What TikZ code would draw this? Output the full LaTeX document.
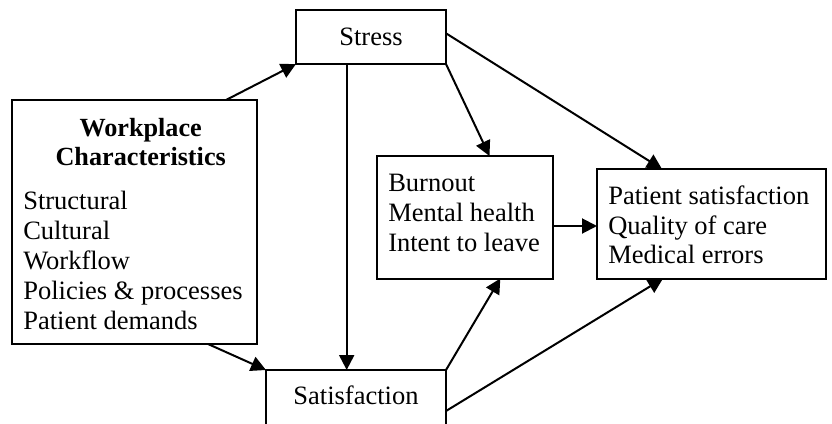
\documentclass[tikz,border=0pt]{standalone}
\usepackage{fontspec}
\setmainfont{Liberation Serif}
\usetikzlibrary{arrows.meta,calc}
\begin{document}
\begin{tikzpicture}[x=0.5pt,y=-0.5pt,
  box/.style={draw,line width=1pt,rectangle,inner sep=0pt,outer sep=0pt,anchor=north west},
  txt/.style={inner sep=0pt,outer sep=0pt,font=\fontsize{13.25}{15}\selectfont},
  bold/.style={txt,font=\fontsize{13.1}{15}\selectfont\bfseries},
  arr/.style={line width=1pt,-{Triangle[length=7.5pt,width=7.5pt]}}]
\useasboundingbox (0,0) rectangle (832,424);
% boxes
\node[box,minimum width=75pt,minimum height=27pt] (stress) at (296,10) {};
\node[box,minimum width=122.5pt,minimum height=122pt] (wp) at (12,100) {};
\node[box,minimum width=87.75pt,minimum height=61.25pt] (burn) at (377,156) {};
\node[box,minimum width=114.5pt,minimum height=54.75pt] (out) at (597,169) {};
\node[box,minimum width=90pt,minimum height=30pt] (sat) at (266,370) {};
% texts
\node[txt,anchor=base] (tstress) at (371,45.7) {Stress};
\node[txt,anchor=base] (tsat) at (356,404.3) {Satisfaction};
\node[bold,anchor=base] (wh1) at (140.7,136.7) {Workplace};
\node[bold,anchor=base] (wh2) at (140.7,165) {Characteristics};
\foreach \t [count=\i] in {Structural,Cultural,Workflow,Policies \& processes,Patient demands}
  \node[txt,anchor=base west] (w\i) at (23.3,{179.3+30*\i}) {\t};
\foreach \t [count=\i] in {Burnout,Mental health,Intent to leave}
  \node[txt,anchor=base west] (b\i) at (388.3,{161.7+30*\i}) {\t};
\node[txt,anchor=base west] (o1) at (608.3,204.3) {Patient satisfaction};
\node[txt,anchor=base west] (o2) at (608.3,234) {Quality of care};
\node[txt,anchor=base west] (o3) at (608.3,263.3) {Medical errors};
% connector end points
\coordinate (wpt) at ($(wp.north west)+(214,0)$);
\coordinate (wpb) at ($(wp.south west)+(196,0)$);
\coordinate (burnt) at ($(burn.north west)+(112.5,0)$);
\coordinate (burnb) at ($(burn.south west)+(123.3,0)$);
\coordinate (burne) at ($(burn.north east)+(0,70)$);
\coordinate (stre) at ($(stress.north east)+(0,23.3)$);
\coordinate (strb) at ($(stress.south west)+(50.7,0)$);
\coordinate (outt) at ($(out.north west)+(65,0)$);
\coordinate (outb) at ($(out.south west)+(66,0)$);
\coordinate (sate) at ($(sat.north east)+(0,41)$);
% connectors
\draw[arr] (wpt) -- (stress.south west);
\draw[arr] (stress.south east) -- (burnt);
\draw[arr] (stre) -- (outt);
\draw[arr] (strb) -- (strb |- sat.north);
\draw[arr] (wpb) -- (sat.north west);
\draw[arr] (sat.north east) -- (burnb);
\draw[arr] (sate) -- (outb);
\draw[arr] (burne) -- (burne -| out.west);
\end{tikzpicture}
\end{document}
